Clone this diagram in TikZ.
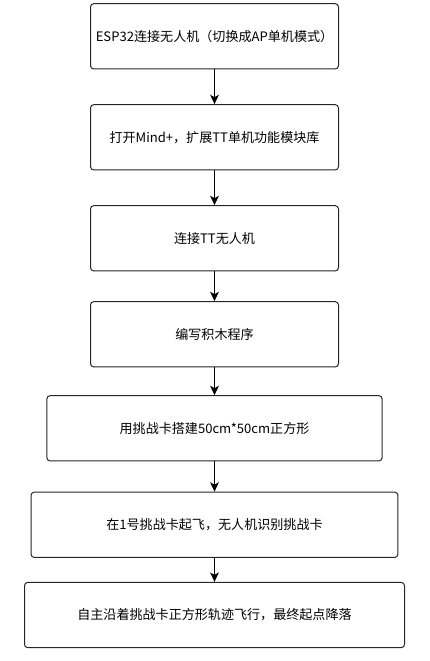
\documentclass[tikz,border=0pt]{standalone}
\usepackage{fontspec}
\setmainfont{Noto Sans CJK SC}
\usetikzlibrary{arrows.meta}
\tikzset{
    stepbox/.style={draw=black!85, line width=0.75pt, rounded corners=2.5pt, minimum height=49pt, inner sep=0pt, align=center, font=\fontsize{9.8pt}{12pt}\selectfont},
    flow/.style={line width=0.75pt, -{Stealth[length=7pt,width=6.5pt,inset=1.8pt]}}
}
\begin{document}
\begin{tikzpicture}[x=0.75pt,y=-0.75pt]
    \useasboundingbox (0,0) rectangle (429,661);
    \node[stepbox, minimum width=186pt] (espconnect) at (214.5,36.3) {ESP32连接无人机（切换成AP单机模式）};
    \node[stepbox, minimum width=186pt] (mindplus) at (214.5,137.3) {打开Mind+，扩展TT单机功能模块库};
    \node[stepbox, minimum width=186pt] (ttconnect) at (214.5,238.3) {连接TT无人机};
    \node[stepbox, minimum width=186pt] (blocks) at (214.5,334.3) {编写积木程序};
    \node[stepbox, minimum width=251.5pt] (square) at (214.5,428.3) {用挑战卡搭建50cm*50cm正方形};
    \node[stepbox, minimum width=275.2pt] (takeoff) at (214.5,524.8) {在1号挑战卡起飞，无人机识别挑战卡};
    \node[stepbox, minimum width=285pt] (landing) at (214.5,615) {自主沿着挑战卡正方形轨迹飞行，最终起点降落};
    \draw[flow] (espconnect) -- (mindplus);
    \draw[flow] (mindplus) -- (ttconnect);
    \draw[flow] (ttconnect) -- (blocks);
    \draw[flow] (blocks) -- (square);
    \draw[flow] (square) -- (takeoff);
    \draw[flow] (takeoff) -- (landing);
\end{tikzpicture}
\end{document}
